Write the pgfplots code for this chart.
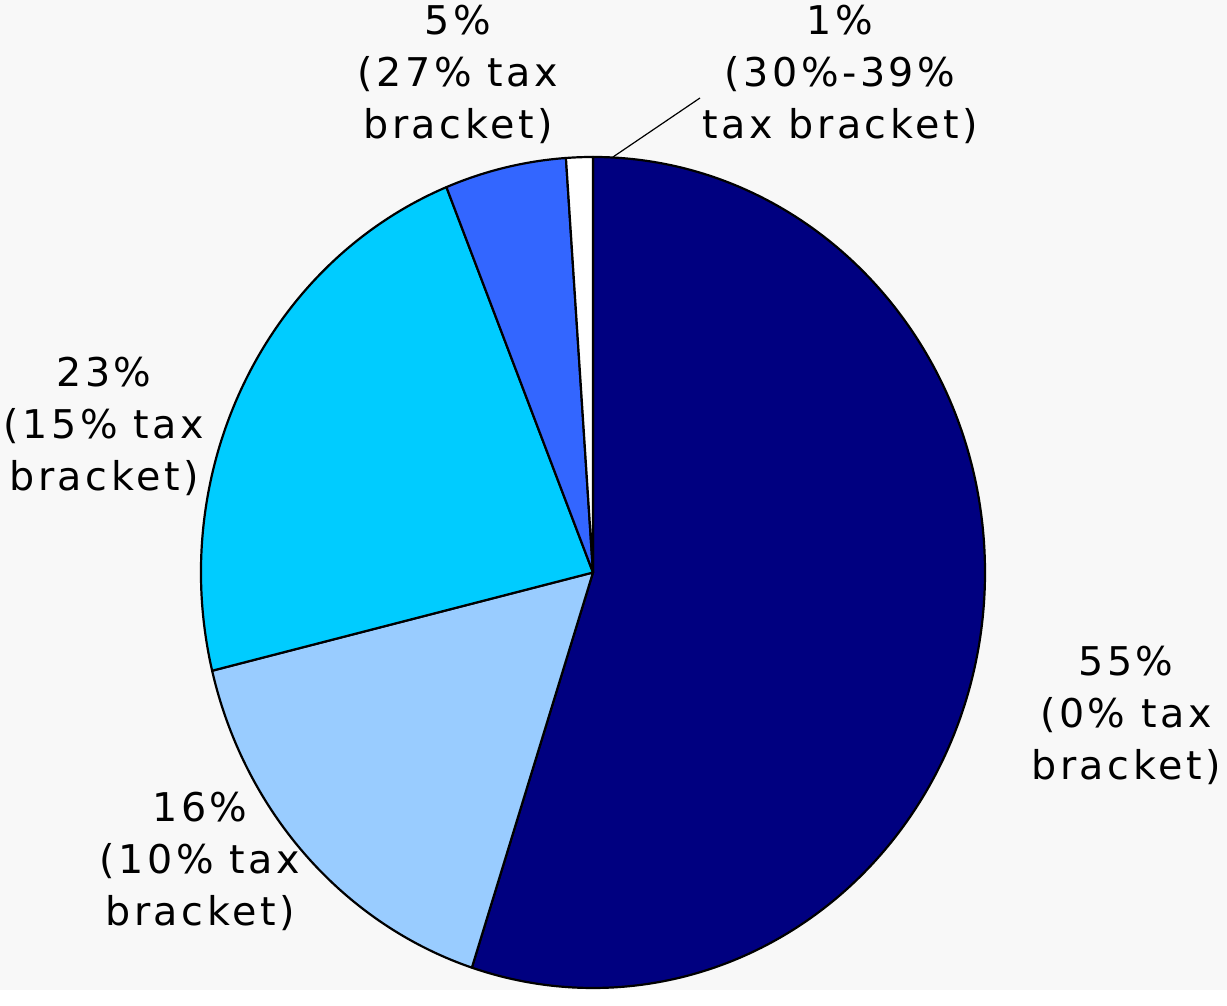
\documentclass[border=0pt]{standalone}
\usepackage{pgfplots}
\pgfplotsset{compat=1.18}
\usepackage{pgfplotstable}
\usepackage{fontspec}
\setmainfont{DejaVu Sans}[LetterSpace=9]
\definecolor{bg}{HTML}{F8F8F8}
\definecolor{slice0}{HTML}{000080}
\definecolor{slice1}{HTML}{99CCFF}
\definecolor{slice2}{HTML}{00CCFF}
\definecolor{slice3}{HTML}{3366FF}
\definecolor{slice4}{HTML}{FFFFFF}
\tikzset{lbl/.style={align=center, font=\fontsize{19.8}{26}\selectfont, text=black, inner sep=0pt}}
\pgfplotstableread{
share
55.0
16.2
22.7
5.0
1.1
}\sharetable
\newcommand\computeangles{%
  \pgfmathsetmacro\cum{0}%
  \pgfplotsforeachungrouped \i in {0,...,4}{%
    \pgfplotstablegetelem{\i}{share}\of\sharetable
    \pgfmathsetmacro\s{90-3.6*\cum}%
    \pgfmathsetmacro\cum{\cum+\pgfplotsretval}%
    \pgfmathsetmacro\e{90-3.6*\cum}%
    \expandafter\xdef\csname sa\i\endcsname{\s}%
    \expandafter\xdef\csname ea\i\endcsname{\e}%
  }%
}
\computeangles
\begin{document}
\begin{tikzpicture}
\begin{axis}[
  scale only axis, width=613.5pt, height=495pt,
  xmin=0, xmax=1227, ymin=0, ymax=990,
  axis line style={draw=none}, ticks=none,
  axis background/.style={fill=bg},
  clip=false,
]
\addplot[draw=none, forget plot] coordinates {(0,0) (1227,990)};
\pgfplotsinvokeforeach{0,...,4}{
  \filldraw[fill=slice#1, draw=black, line width=1.1pt, line join=round]
    (axis cs:593,417.5) -- ++({\csname sa#1\endcsname}:196pt and 207.75pt)
    arc[start angle={\csname sa#1\endcsname}, end angle={\csname ea#1\endcsname}, x radius=196pt, y radius=207.75pt] -- cycle;
}
\draw[line width=0.6pt] (axis cs:613,833) -- (axis cs:700,892);
\node[lbl] at (axis cs:458,916) {5\%\\(27\% tax\\bracket)};
\node[lbl] at (axis cs:840,916) {1\%\\(30\%-39\%\\tax bracket)};
\node[lbl] at (axis cs:104,564) {23\%\\(15\% tax\\bracket)};
\node[lbl] at (axis cs:1126,275) {55\%\\(0\% tax\\bracket)};
\node[lbl] at (axis cs:200,129) {16\%\\(10\% tax\\bracket)};
\end{axis}
\end{tikzpicture}
\end{document}
